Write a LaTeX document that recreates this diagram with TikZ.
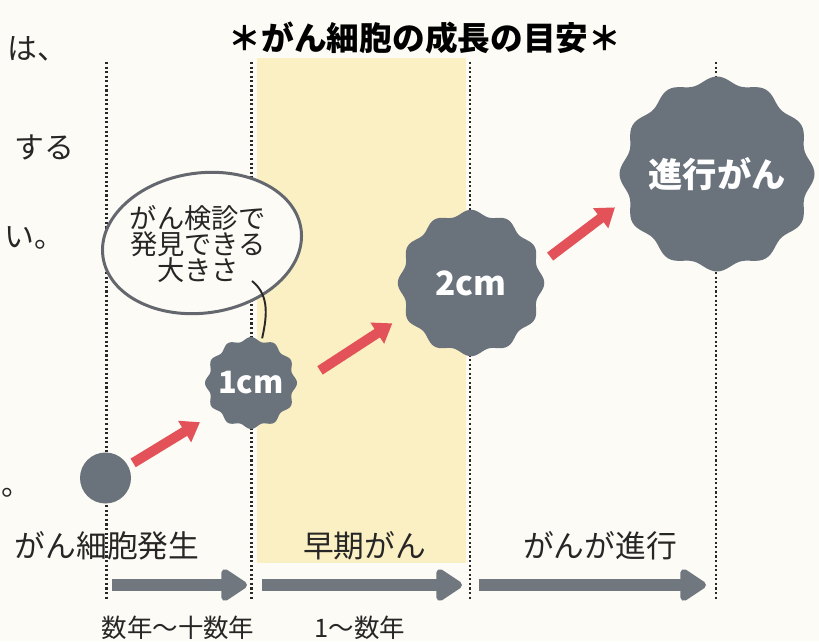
\documentclass[tikz,border=0pt]{standalone}
\usepackage{fontspec}
\setmainfont{Noto Sans CJK JP}
\usetikzlibrary{arrows.meta,positioning}
\definecolor{paper}{RGB}{252,251,245}
\definecolor{band}{RGB}{251,240,196}
\definecolor{cellgray}{RGB}{106,114,124}
\definecolor{growred}{RGB}{226,82,88}
\definecolor{spangray}{RGB}{112,119,127}
\definecolor{inkgray}{RGB}{40,40,40}
\definecolor{bubblegray}{RGB}{100,104,110}

\begin{document}
\begin{tikzpicture}[
  divider/.style={draw=inkgray,line width=1.2pt,dash pattern=on 1.2pt off 1.4pt},
  cell/.style={circle,inner sep=0pt,outer sep=0pt,text=white},
  growth/.style={-{Triangle[length=0.36cm,width=0.48cm]},line width=0.2cm,draw=growred},
  span/.style={-{Triangle[length=0.58cm,width=0.72cm,round]},line width=0.24cm,draw=spangray},
  stage/.style={font=\fontsize{17.5}{18}\selectfont,text=black!85},
  period/.style={font=\fontsize{14.5}{15}\selectfont,text=black!85},
  margintext/.style={font=\fontsize{17}{18}\selectfont,text=black!85},
  bubble/.style={align=center,font=\fontsize{15.5}{15}\selectfont,text=black!85},
  bubbleline/.style={draw=bubblegray,line width=1.7pt,fill=paper},
  tailline/.style={draw=inkgray,line width=1.1pt}
]
\useasboundingbox (0,0) rectangle (16.38,12.82);
\fill[paper] (0,0) rectangle (16.38,12.82);
\fill[band] (5.13,1.56) rectangle (9.31,11.66);

\foreach \i/\x in {1/2.13,2/5.03,3/9.40,4/14.32} {
  \coordinate (top\i) at (\x,11.58);
  \coordinate (bot\i) at (\x,0.82);
  \draw[divider] (top\i) -- (bot\i);
}

\node[font=\fontsize{18.6}{20}\selectfont\bfseries] (title) at (8.50,12.06) {＊がん細胞の成長の目安＊};

\node[margintext,anchor=west] (m1) at (0.02,11.84) {は、};
\node[margintext,anchor=west] (m2) at (0.16,9.88) {する};
\node[margintext,anchor=west] (m3) at (-0.04,8.06) {い。};
\node[margintext] (m4) at (0.33,2.96) {。};

\coordinate (bubblemid) at (4.04,7.96);
\draw[bubbleline,rotate around={8:(bubblemid)}] (bubblemid) ellipse [x radius=2.0cm,y radius=1.4cm];
\node[bubble] (callout) at (3.96,7.94) {がん検診で\\発見できる\\大きさ};

\foreach \cx/\cy/\r/\a in {5.02/5.16/0.88/0.04,9.42/7.16/1.41/0.055,14.34/9.34/1.88/0.07}
  \fill[cellgray,shift={(\cx,\cy)}] plot[variable=\t,domain=0:360,samples=181,smooth] (\t:{\r+\a*cos(12*\t)}) -- cycle;

\node[cell,fill=cellgray,minimum size=1.02cm] (seed) at (2.11,3.26) {};
\node[cell,minimum size=1.84cm,font=\bfseries\fontsize{17.5}{18}\selectfont] (one) at (5.02,5.16) {1cm};
\node[cell,minimum size=2.96cm,font=\bfseries\fontsize{19}{19}\selectfont] (two) at (9.42,7.16) {2cm};
\node[cell,minimum size=3.88cm,font=\bfseries\fontsize{19.5}{20}\selectfont] (big) at (14.34,9.34) {進行がん};

\coordinate (tailstart) at (5.04,7.20);
\draw[tailline] (tailstart) .. controls (5.42,6.90) and (5.32,6.42) .. (one.76);

\draw[growth,shorten <=0.12cm,shorten >=0.37cm] (seed.28) -- (one.220);
\draw[growth,shorten <=0.55cm,shorten >=0.29cm] (one.357) -- (two.206);
\draw[growth,shorten <=0.2cm,shorten >=0.22cm] (two.16) -- (big.196);

\node[stage] (born) at (2.14,1.90) {がん細胞発生};
\node[stage] (early) at (7.29,1.90) {早期がん};
\node[stage] (advancing) at (12.00,1.90) {がんが進行};

\coordinate (s0) at (2.24,1.12);
\coordinate (s1) at (4.94,1.12);
\coordinate (s2) at (5.24,1.12);
\coordinate (s3) at (9.24,1.12);
\coordinate (s4) at (9.58,1.12);
\coordinate (s5) at (14.12,1.12);
\draw[span] (s0) -- (s1);
\draw[span] (s2) -- (s3);
\draw[span] (s4) -- (s5);

\node[period] (years1) at (3.56,0.26) {数年〜十数年};
\node[period] (years2) at (7.20,0.26) {1〜数年};
\end{tikzpicture}
\end{document}
